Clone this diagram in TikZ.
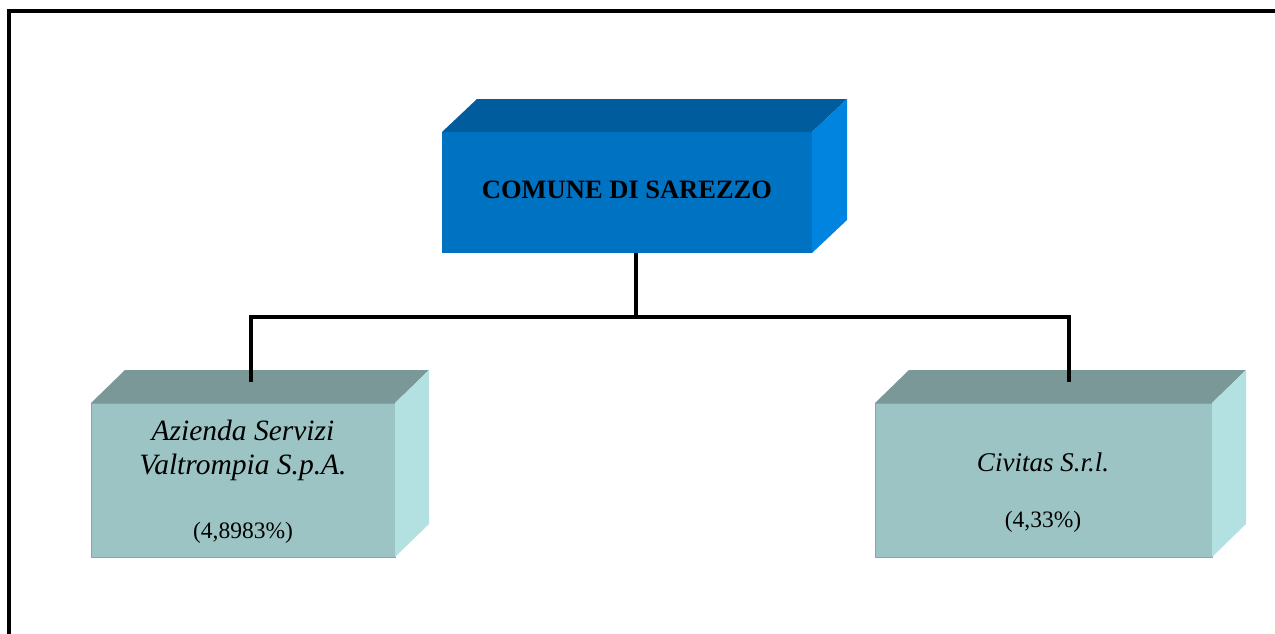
\documentclass[tikz,border=0pt]{standalone}
\usepackage{fontspec}
\setmainfont{Liberation Serif}
\definecolor{bluefront}{HTML}{0072C2}
\definecolor{bluetop}{HTML}{005C9C}
\definecolor{blueside}{HTML}{0084DF}
\definecolor{tealfront}{HTML}{9CC4C4}
\definecolor{tealtop}{HTML}{7A9898}
\definecolor{tealside}{HTML}{B3E1E1}
\tikzset{
  face/.style={inner sep=0pt, outer sep=0pt},
  link/.style={line width=4pt, black},
}
\newcommand{\cubeparts}[5]{% node, dx, dy, topcolor, sidecolor
  \fill[#4] (#1.north west) -- ++(#2,#3) -- ([shift={(#2,#3)}]#1.north east) -- (#1.north east) -- cycle;
  \fill[#5] (#1.north east) -- ++(#2,#3) -- ([shift={(#2,#3)}]#1.south east) -- (#1.south east) -- cycle;
}
\begin{document}
\begin{tikzpicture}[x=1pt,y=1pt]
\useasboundingbox (0,0) rectangle (1275,-633);
\fill[white] (0,0) rectangle (1275,-633);
% frame
\draw[line width=4pt] (9,-640) -- (9,-11) -- (1280,-11);
% top box
\node[face, fill=bluefront, minimum width=370, minimum height=121] (top) at (627,-192.5) {};
\cubeparts{top}{35}{33}{bluetop}{blueside}
\node[font=\fontsize{26.5}{30}\selectfont\bfseries] (toptxt) at (627,-190) {COMUNE DI SAREZZO};
% left box
\node[face, fill=tealfront, draw=tealfront!85!black, line width=0.8pt, minimum width=304, minimum height=154] (lf) at (243,-480) {};
\cubeparts{lf}{34}{33}{tealtop}{tealside}
\node[font=\fontsize{29.5}{34}\selectfont\itshape, align=center] (ltxt) at (243,-450) {Azienda Servizi\\Valtrompia S.p.A.};
\node[font=\fontsize{23.5}{28}\selectfont] (lpct) at (243,-533) {(4,8983\%)};
% right box
\node[face, fill=tealfront, draw=tealfront!85!black, line width=0.8pt, minimum width=337, minimum height=154] (rf) at (1043.5,-480) {};
\cubeparts{rf}{34}{33}{tealtop}{tealside}
\node[font=\fontsize{27}{34}\selectfont\itshape] (rtxt) at (1043,-462) {Civitas S.r.l.};
\node[font=\fontsize{23.5}{28}\selectfont] (rpct) at (1043,-522) {(4,33\%)};
% connectors
\coordinate (j) at (636,-317);
\coordinate (la) at (251,-382);
\coordinate (ra) at (1069,-382);
\draw[link] (top.south -| j) -- (j);
\draw[link] (la) |- (j) -| (ra);
\end{tikzpicture}
\end{document}
